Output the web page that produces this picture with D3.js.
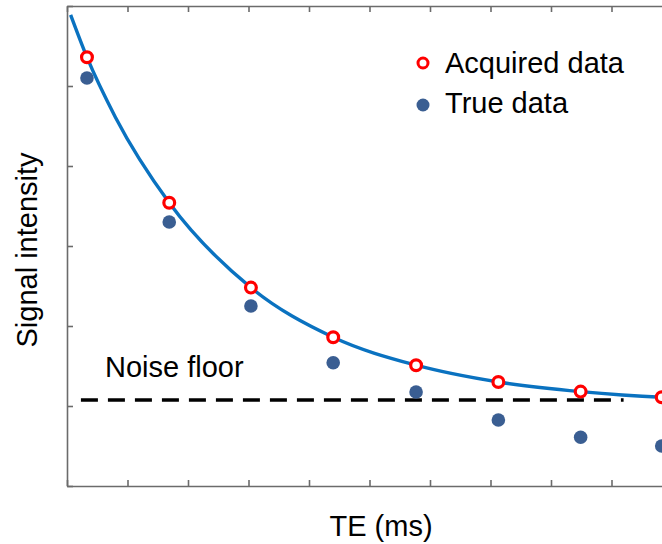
<!DOCTYPE html>
<html>
<head>
<meta charset="utf-8">
<script src="https://cdn.jsdelivr.net/npm/d3@7"></script>
<style>
  body { margin: 0; background: #fff; }
  text { font-family: Arial, "Liberation Sans", sans-serif; fill: #000; }
</style>
</head>
<body>
<div id="vis"></div>
<script>
// values (arbitrary units)
var te = [3.3, 16.9, 30.4, 44.0, 57.7, 71.3, 84.9, 98.3];
var acquired = [5.36, 3.54, 2.48, 1.86, 1.51, 1.30, 1.18, 1.11];
var trueData = [5.10, 3.30, 2.25, 1.54, 1.175, 0.825, 0.61, 0.50];
// fitted decay curve
var fitX = [0.6, 3.3, 8.0, 16.9, 30.4, 44.0, 57.7, 71.3, 84.9, 98.3, 102];
var fitY = [5.89, 5.36, 4.61, 3.54, 2.48, 1.86, 1.51, 1.30, 1.18, 1.11, 1.10];
var noiseFloor = 1.075;
var noiseRange = [2.3, 92];
var xTicks = d3.range(0, 101, 10);
var yTicks = [0, 1, 2, 3, 4, 5, 6];

const WIDTH = 662;
const HEIGHT = 544;
const LEFT = 67, RIGHT = 672, TOP = 6, BOTTOM = 486;
const FONT = 29;

var svg = d3.select("#vis").append("svg")
    .attr("width", WIDTH)
    .attr("height", HEIGHT);

var x = d3.scaleLinear().domain([0, 100]).range([LEFT, RIGHT]);
var y = d3.scaleLinear().domain([0, 6]).range([BOTTOM, TOP]);

// axes box, ticks pointing inward
function styleAxis(g) {
    g.selectAll("path, line").attr("stroke", "#6b6b6b").attr("stroke-width", 1.6);
    g.selectAll("text").remove();
}
svg.append("g").attr("transform", "translate(0," + BOTTOM + ")")
    .call(d3.axisTop(x).tickValues(xTicks).tickSize(6).tickSizeOuter(0))
    .call(styleAxis);
svg.append("g").attr("transform", "translate(0," + TOP + ")")
    .call(d3.axisBottom(x).tickValues(xTicks).tickSize(6).tickSizeOuter(0))
    .call(styleAxis);
svg.append("g").attr("transform", "translate(" + LEFT + ",0)")
    .call(d3.axisRight(y).tickValues(yTicks).tickSize(6).tickSizeOuter(0))
    .call(styleAxis);

// noise floor
svg.append("line")
    .attr("x1", x(noiseRange[0])).attr("x2", x(noiseRange[1]))
    .attr("y1", y(noiseFloor)).attr("y2", y(noiseFloor))
    .attr("stroke", "#000")
    .attr("stroke-width", 3.5)
    .attr("stroke-dasharray", "17,10");

svg.append("text")
    .attr("x", 105).attr("y", 377)
    .attr("font-size", FONT + "px")
    .text("Noise floor");

// fitted curve
var fit = fitX.map(function (d, i) { return [d, fitY[i]]; });
svg.append("path")
    .datum(fit)
    .attr("fill", "none")
    .attr("stroke", "#0a72c0")
    .attr("stroke-width", 3.4)
    .attr("d", d3.line()
        .x(function (d) { return x(d[0]); })
        .y(function (d) { return y(d[1]); })
        .curve(d3.curveMonotoneX));

// true data
svg.append("g").selectAll("circle")
    .data(te)
    .enter()
    .append("circle")
    .attr("cx", function (d) { return x(d); })
    .attr("cy", function (d, i) { return y(trueData[i]); })
    .attr("r", 6.8)
    .attr("fill", "#3a5e92");

// acquired data
svg.append("g").selectAll("circle")
    .data(te)
    .enter()
    .append("circle")
    .attr("cx", function (d) { return x(d); })
    .attr("cy", function (d, i) { return y(acquired[i]); })
    .attr("r", 5.4)
    .attr("fill", "#fff")
    .attr("stroke", "#ff0000")
    .attr("stroke-width", 3.2);

// legend
var legend = svg.append("g");
legend.append("circle")
    .attr("cx", 423).attr("cy", 63).attr("r", 5)
    .attr("fill", "#fff").attr("stroke", "#ff0000").attr("stroke-width", 3);
legend.append("text")
    .attr("x", 445).attr("y", 73)
    .attr("font-size", FONT + "px")
    .text("Acquired data");
legend.append("circle")
    .attr("cx", 423).attr("cy", 105).attr("r", 6.5)
    .attr("fill", "#3a5e92");
legend.append("text")
    .attr("x", 445).attr("y", 113)
    .attr("font-size", FONT + "px")
    .text("True data");

// axis titles
svg.append("text")
    .attr("text-anchor", "middle")
    .attr("x", 381).attr("y", 536)
    .attr("font-size", FONT + "px")
    .text("TE (ms)");
svg.append("text")
    .attr("text-anchor", "middle")
    .attr("transform", "translate(37,250) rotate(-90)")
    .attr("font-size", FONT + "px")
    .text("Signal intensity");
</script>
</body>
</html>
